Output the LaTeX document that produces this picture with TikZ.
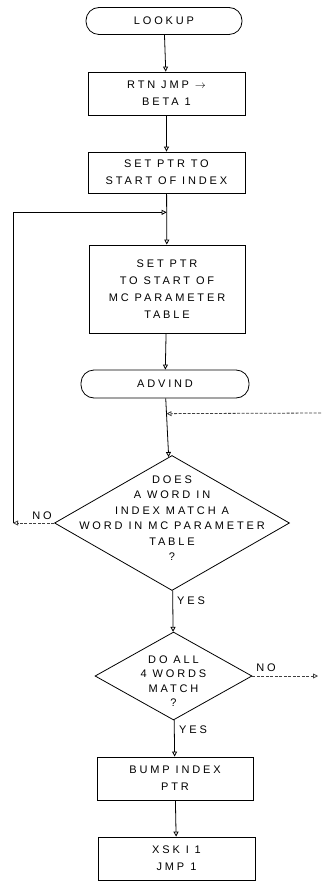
\documentclass[tikz,border=0pt]{standalone}
\usepackage{fontspec}
\setmainfont{Liberation Sans}[LetterSpace=26]
\usetikzlibrary{arrows.meta,shapes.geometric}

\begin{document}
\begin{tikzpicture}[x=1pt,y=-1pt,line width=.8pt,
    font=\fontsize{11}{17}\selectfont,
    box/.style={draw,align=center,inner sep=0pt,minimum width=157pt,minimum height=43pt},
    term/.style={box,rounded corners=13pt,minimum height=27pt},
    decision/.style={draw,diamond,inner sep=0pt},
    flow/.style={-{Triangle[open,length=5pt,width=5pt]}},
    faint/.style={dash pattern=on 3pt off 1.5pt,black!75}]
    \useasboundingbox (0,0) rectangle (321,882);
    \node[term,minimum width=156pt] (lookup) at (164,21) {LOOKUP};
    \node[box] (rtn) at (166.5,93.5) {RTN JMP $\rightarrow$\\BETA 1};
    \node[box,minimum height=41pt] (setidx) at (166.5,172.5) {SET PTR TO\\START OF INDEX};
    \node[box,minimum width=156pt,minimum height=88pt] (setmc) at (167,289)
      {SET PTR\\TO START OF\\MC PARAMETER\\TABLE};
    \node[term,minimum width=168pt,minimum height=28pt] (advind) at (165,384) {ADVIND};
    \node[decision,minimum width=235pt,minimum height=135pt] (match) at (172,523) {};
    \node[align=center,font=\fontsize{11}{15.5}\selectfont] (matchtxt) at (172,518)
      {DOES\\A WORD IN\\INDEX MATCH A\\WORD IN MC PARAMETER\\TABLE\\?};
    \node[decision,minimum width=157pt,minimum height=88pt] (allfour) at (173.5,676) {};
    \node[align=center,font=\fontsize{11}{14.5}\selectfont] (allfourtxt) at (173.5,681)
      {DO ALL\\4 WORDS\\MATCH\\?};
    \node[box,minimum width=156pt] (bump) at (175,778.5) {BUMP INDEX\\PTR};
    \node[box] (xsk) at (176.5,858.5) {XSK I 1\\JMP 1};
    \node (no1) at (42,516) {NO};
    \node (yes1) at (191,601) {YES};
    \node (no2) at (266,668) {NO};
    \node (yes2) at (193,730) {YES};
    \coordinate (noleft) at (13,523);
    \coordinate (noout) at (318,676);
    \coordinate (noin) at (321,413);
    \draw[flow] (lookup) -- (rtn);
    \draw[flow] (rtn) -- (setidx);
    \draw[flow] (setidx) -- coordinate[pos=.37] (loopin) (setmc);
    \draw[flow] (setmc) -- (advind);
    \draw[flow] (advind) -- coordinate[pos=.26] (backin) (match);
    \draw[flow] (match) -- (allfour);
    \draw[flow] (allfour) -- (bump);
    \draw[flow] (bump) -- (xsk);
    \draw[flow,faint] (match.west) -- (noleft);
    \draw[flow] (noleft) |- (loopin);
    \draw[flow,faint] (allfour.east) -- (noout);
    \draw[flow,faint] (noin) -- (backin);
\end{tikzpicture}
\end{document}
